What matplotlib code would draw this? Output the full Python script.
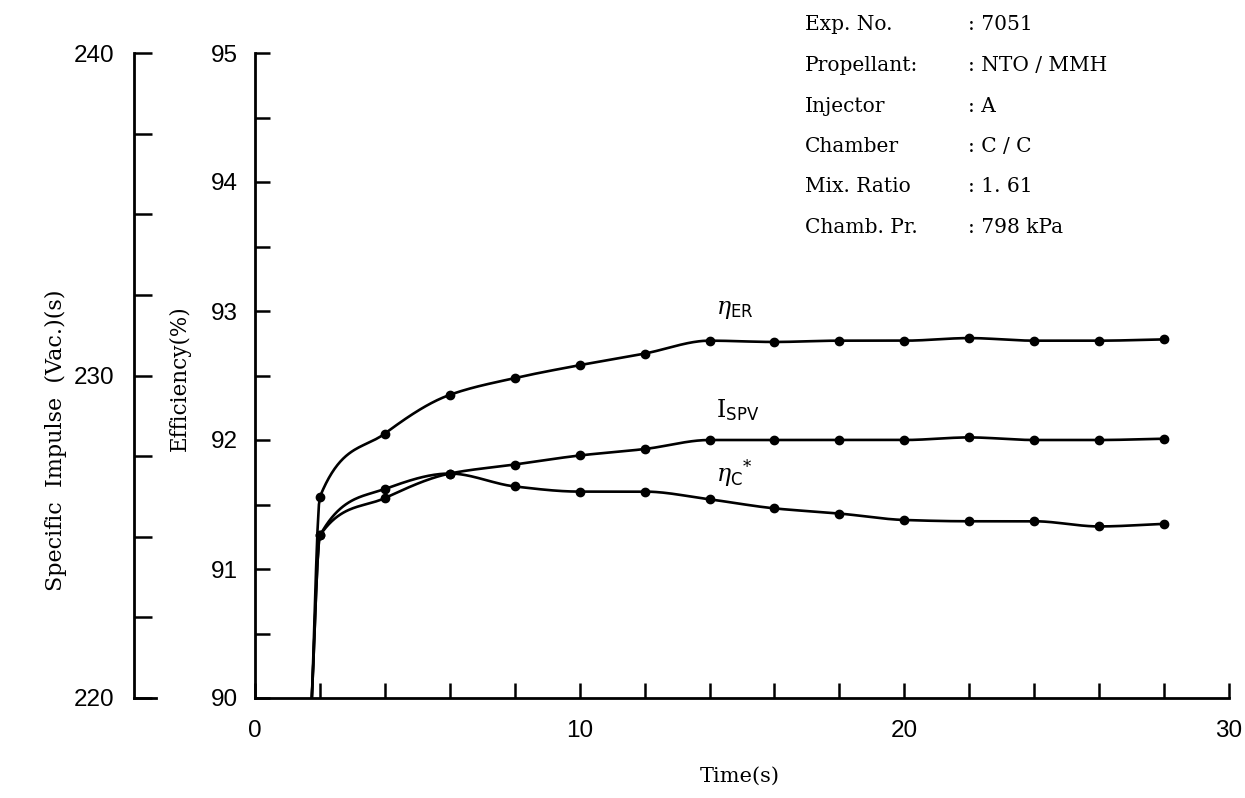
import numpy as np
import matplotlib
matplotlib.use("Agg")
import matplotlib.pyplot as plt
from matplotlib.ticker import MultipleLocator, FixedLocator

# ---------- data (exp. 7051, NTO/MMH) ----------
time_s = [2, 4, 6, 8, 10, 12, 14, 16, 18, 20, 22, 24, 26, 28]
eta_er = [91.56, 92.05, 92.35, 92.48, 92.58, 92.67, 92.77, 92.76, 92.77, 92.77, 92.79, 92.77, 92.77, 92.78]
eta_c = [91.26, 91.62, 91.74, 91.64, 91.60, 91.60, 91.54, 91.47, 91.43, 91.38, 91.37, 91.37, 91.33, 91.35]
isp_vac = [225.04, 226.20, 226.96, 227.24, 227.52, 227.72, 228.00, 228.00, 228.00, 228.00, 228.08, 228.00, 228.00, 228.04]
ignition_t = 1.75

info_keys = ["Exp. No.", "Propellant:", "Injector", "Chamber", "Mix. Ratio", "Chamb. Pr."]
info_vals = [": 7051", ": NTO / MMH", ": A", ": C / C", ": 1. 61", ": 798 kPa"]

W, H = 1245, 798
SERIF = "DejaVu Serif"
NUMS = ["Liberation Sans", "DejaVu Sans"]
plt.rcParams["mathtext.fontset"] = "dejavuserif"


def pchip(x, y, xs):
    # monotone cubic (Fritsch-Carlson) so the curve does not overshoot
    x = np.asarray(x, float); y = np.asarray(y, float)
    h = np.diff(x); d = np.diff(y) / h
    m = np.zeros_like(y)
    for k in range(1, len(x) - 1):
        if d[k - 1] * d[k] > 0:
            w1 = 2 * h[k] + h[k - 1]
            w2 = h[k] + 2 * h[k - 1]
            m[k] = (w1 + w2) / (w1 / d[k - 1] + w2 / d[k])
    m[0] = d[0]; m[-1] = d[-1]
    idx = np.clip(np.searchsorted(x, xs) - 1, 0, len(h) - 1)
    t = (xs - x[idx]) / h[idx]
    h00 = 2 * t**3 - 3 * t**2 + 1
    h10 = t**3 - 2 * t**2 + t
    h01 = -2 * t**3 + 3 * t**2
    h11 = t**3 - t**2
    return h00 * y[idx] + h10 * h[idx] * m[idx] + h01 * y[idx + 1] + h11 * h[idx] * m[idx + 1]


def curve(ax, y0, ys):
    xs = [ignition_t] + time_s
    yy = [y0] + list(ys)
    fine = np.linspace(xs[0], xs[-1], 600)
    ax.plot(fine, pchip(xs, yy, fine), color="black", lw=1.9, solid_capstyle="round", zorder=3)
    ax.plot(time_s, ys, "o", color="black", ms=6, zorder=4)


fig = plt.figure(figsize=(W / 100, H / 100), dpi=100)
left, right, top, bottom = 255, 1229, 53, 698
ax = fig.add_axes([left / W, 1 - bottom / H, (right - left) / W, (bottom - top) / H])

ax.set_xlim(0, 30)
ax.set_ylim(90, 95)
for s in ("top", "right"):
    ax.spines[s].set_visible(False)
for s in ("left", "bottom"):
    ax.spines[s].set_linewidth(2.0)

ax.xaxis.set_major_locator(FixedLocator([0, 10, 20, 30]))
ax.xaxis.set_minor_locator(MultipleLocator(2))
ax.yaxis.set_major_locator(MultipleLocator(1))
ax.yaxis.set_minor_locator(MultipleLocator(0.5))
ax.tick_params(which="both", direction="in", length=11, width=1.8, color="black")
ax.tick_params(axis="x", which="major", pad=16)
ax.tick_params(axis="y", which="major", pad=12)
for lab in ax.get_xticklabels() + ax.get_yticklabels():
    lab.set_family(NUMS)
    lab.set_fontsize(17.5)

# specific impulse scale shares the same pixel range as efficiency
ax_isp = ax.twinx()
ax_isp.set_ylim(220, 240)
ax_isp.axis("off")

curve(ax, 90, eta_er)
curve(ax, 90, eta_c)
curve(ax_isp, 220, isp_vac)

ax.text(14.2, 92.92, r"$\eta_{\mathsf{ER}}$", fontsize=17, ha="left", va="bottom")
ax.text(14.2, 92.13, r"$\mathrm{I}_{\mathsf{SPV}}$", fontsize=17, ha="left", va="bottom")
ax.text(14.2, 91.62, r"$\eta_{\mathsf{C}}{}^{*}$", fontsize=17, ha="left", va="bottom")

# separate specific impulse axis on the far left
ax2 = fig.add_axes([134 / W, 1 - bottom / H, 22 / W, (bottom - top) / H])
ax2.set_ylim(220, 240)
ax2.set_xlim(0, 1)
for s in ("top", "right"):
    ax2.spines[s].set_visible(False)
for s in ("left", "bottom"):
    ax2.spines[s].set_linewidth(2.0)
ax2.patch.set_alpha(0)
ax2.set_xticks([])
ax2.yaxis.set_major_locator(MultipleLocator(10))
ax2.yaxis.set_minor_locator(MultipleLocator(2.5))
ax2.tick_params(which="both", direction="in", length=13, width=1.8)
ax2.tick_params(axis="y", which="major", pad=14)
for lab in ax2.get_yticklabels():
    lab.set_family(NUMS)
    lab.set_fontsize(17.5)

fig.text(180 / W, 1 - 378 / H, "Efficiency(%)", rotation=90, ha="center", va="center",
         family=SERIF, fontsize=15.5)
fig.text(56 / W, 1 - 440 / H, "Specific  Impulse  (Vac.)(s)", rotation=90, ha="center", va="center",
         family=SERIF, fontsize=16)
fig.text(740 / W, 1 - 776 / H, "Time(s)", ha="center", va="center", family=SERIF, fontsize=15)

for i, (k, v) in enumerate(zip(info_keys, info_vals)):
    y = 1 - (25 + 40.5 * i) / H
    fig.text(805 / W, y, k, ha="left", va="center", family=SERIF, fontsize=14.5)
    fig.text(968 / W, y, v, ha="left", va="center", family=SERIF, fontsize=14.5)

fig.savefig("out.png", dpi=100, facecolor="white")
